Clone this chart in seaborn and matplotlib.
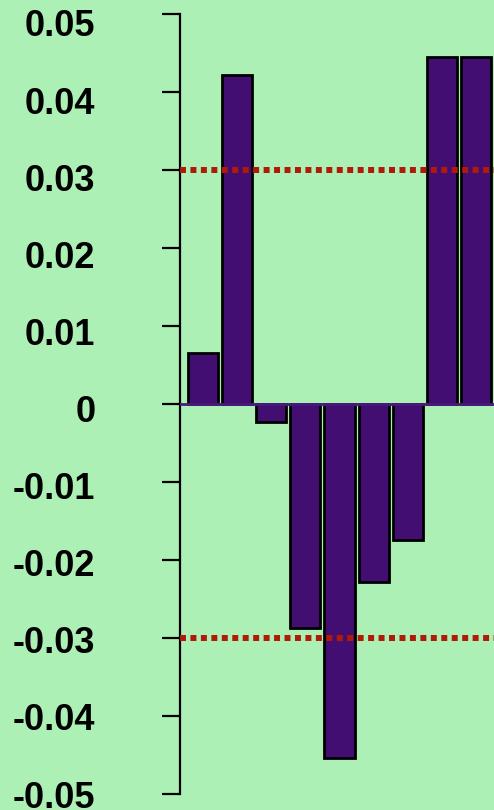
import matplotlib
matplotlib.use("Agg")

import matplotlib.pyplot as plt
import matplotlib.transforms as mtransforms
import seaborn as sns
import pandas as pd

# bar values
categories = ["b1", "b2", "b3", "b4", "b5", "b6", "b7", "b8", "b9"]
values = [0.0065, 0.0422, -0.0023, -0.0287, -0.0454, -0.0228, -0.0174, 0.0445, 0.0445]
limits = [0.03, -0.03]
yticks = [0.05, 0.04, 0.03, 0.02, 0.01, 0, -0.01, -0.02, -0.03, -0.04, -0.05]
ytick_labels = ["0.05", "0.04", "0.03", "0.02", "0.01", "0", "-0.01", "-0.02", "-0.03", "-0.04", "-0.05"]

BG = "#adf0b6"
BAR = "#420e72"
RED = "#b01a08"

sns.set_style("white")
plt.rcParams["font.family"] = ["Liberation Sans", "DejaVu Sans"]

df = pd.DataFrame({"cat": categories, "val": values})

fig = plt.figure(figsize=(4.94, 8.10), dpi=100)
fig.patch.set_facecolor(BG)
ax = fig.add_axes([180 / 494, 16 / 810, 1 - 180 / 494, 780 / 810])
ax.set_facecolor(BG)

sns.barplot(data=df, x="cat", y="val", color=BAR, saturation=1, width=0.88,
            edgecolor="black", linewidth=2, ax=ax)

ax.set_xlim(-0.674, 8.527)
ax.set_ylim(-0.05, 0.05)

# zero line and dotted limit lines over the bars
ax.axhline(0, color="#4a1a80", lw=2, zorder=5)
for lim in limits:
    ax.axhline(lim, color=RED, lw=4.3, linestyle=(0, (1, 0.75)),
               dash_capstyle="butt", zorder=6)

ax.set_yticks(yticks)
ax.set_yticklabels(ytick_labels, fontsize=26, fontweight="bold", color="black")
ax.tick_params(axis="y", direction="out", length=13, width=1.6, color="black",
               pad=48, left=True)
ax.tick_params(axis="x", bottom=False, labelbottom=False)
ax.set_xlabel("")
ax.set_ylabel("")

# in the original the labels drift below their ticks towards the top
for tick, v in zip(ax.yaxis.get_major_ticks(), yticks):
    dy = 4.5 * (1 + v / 0.05) / 100
    tick.label1.set_transform(tick.label1.get_transform()
                              + mtransforms.ScaledTranslation(0, -dy, fig.dpi_scale_trans))

for side in ["top", "right", "bottom"]:
    ax.spines[side].set_visible(False)
ax.spines["left"].set_color("black")
ax.spines["left"].set_linewidth(1.6)

fig.savefig("out.png", dpi=100, facecolor=BG)
